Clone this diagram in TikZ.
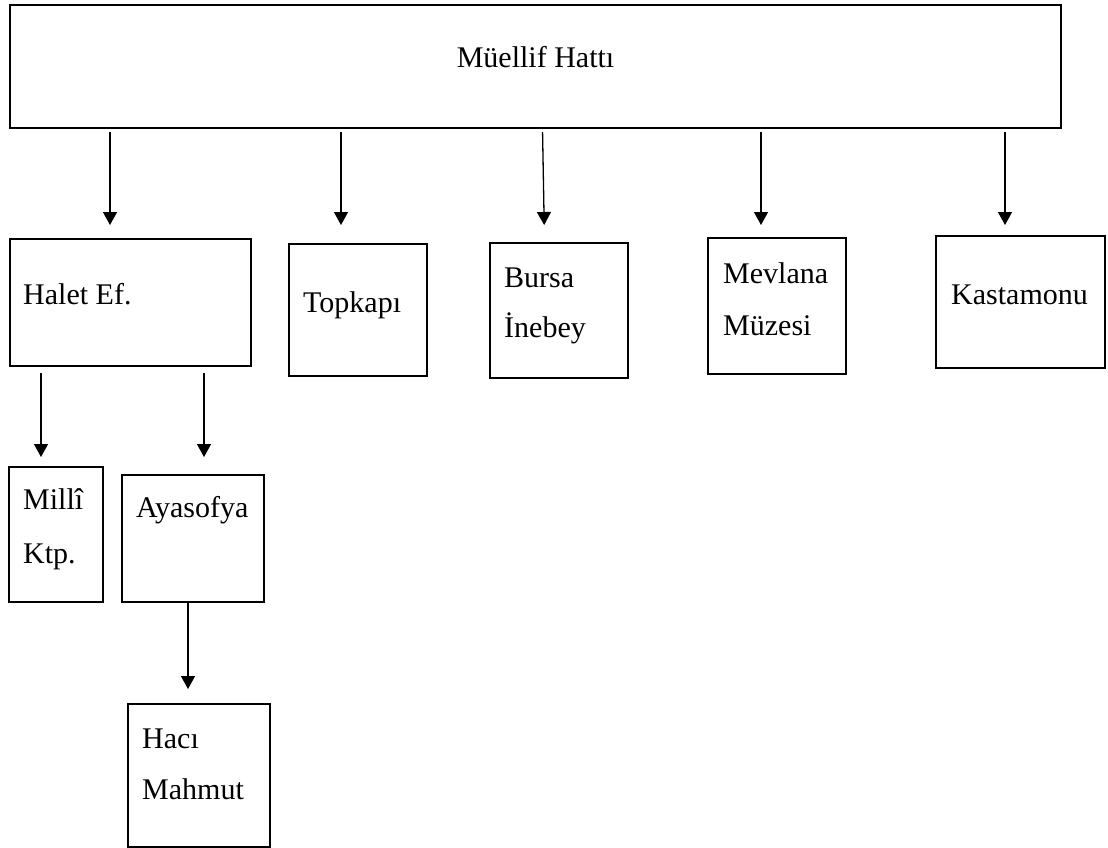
\documentclass[tikz,border=0pt]{standalone}
\usepackage{fontspec}
\setmainfont{Liberation Serif}
\usetikzlibrary{arrows.meta}
\begin{document}
\begin{tikzpicture}[x=1pt,y=1pt,
  box/.style={draw=black, line width=2pt, inner sep=0pt},
  txt/.style={anchor=base west, inner sep=0pt, font=\fontsize{30}{36}\selectfont},
  arr/.style={draw=black, line width=1.3pt, -{Triangle[length=13pt,width=14pt]}}]
\useasboundingbox (0,0) rectangle (1108,-848);
% boxes
\node[box, minimum width=1051pt, minimum height=123pt] (top) at (535.5,-66.5) {};
\node[box, minimum width=241pt, minimum height=127pt] (halet) at (130.5,-302.5) {};
\node[box, minimum width=138pt, minimum height=132pt] (topkapi) at (358,-310) {};
\node[box, minimum width=138pt, minimum height=135pt] (bursa) at (559,-310.5) {};
\node[box, minimum width=138pt, minimum height=136pt] (mevlana) at (777,-306) {};
\node[box, minimum width=169pt, minimum height=132pt] (kastamonu) at (1020.5,-302) {};
\node[box, minimum width=94pt, minimum height=135pt] (milli) at (56,-534.5) {};
\node[box, minimum width=142pt, minimum height=127pt] (ayasofya) at (193,-538.5) {};
\node[box, minimum width=142pt, minimum height=143pt] (haci) at (199,-775.5) {};
% texts
\node[txt, anchor=base] (t-top) at (535.5,-68) {Müellif Hattı};
\node[txt] (t-halet) at (23,-304) {Halet Ef.};
\node[txt] (t-topkapi) at (303,-312) {Topkapı};
\node[txt] (t-bursa1) at (504,-287) {Bursa};
\node[txt] (t-bursa2) at (504,-337) {İnebey};
\node[txt] (t-mevlana1) at (723,-283) {Mevlana};
\node[txt] (t-mevlana2) at (723,-335) {Müzesi};
\node[txt] (t-kastamonu) at (951,-304) {Kastamonu};
\node[txt] (t-milli1) at (23,-509) {Millî};
\node[txt] (t-milli2) at (23,-563) {Ktp.};
\node[txt] (t-ayasofya) at (136,-517) {Ayasofya};
\node[txt] (t-haci1) at (142,-748) {Hacı};
\node[txt] (t-haci2) at (142,-799) {Mahmut};
% connectors
\draw[arr, shorten <=3pt, shorten >=13pt] ([xshift=101pt]top.south west) -- ([xshift=101pt]halet.north west);
\draw[arr, shorten <=3pt, shorten >=18pt] ([xshift=332pt]top.south west) -- ([xshift=53pt]topkapi.north west);
\draw[arr, shorten <=3pt, shorten >=17pt] ([xshift=533.5pt]top.south west) -- ([xshift=55.5pt]bursa.north west);
\draw[arr, shorten <=3pt, shorten >=12pt] ([xshift=752pt]top.south west) -- ([xshift=54pt]mevlana.north west);
\draw[arr, shorten <=3pt, shorten >=10pt] ([xshift=996pt]top.south west) -- ([xshift=70pt]kastamonu.north west);
\draw[arr, shorten <=6pt, shorten >=9pt] ([xshift=32pt]halet.south west) -- ([xshift=33pt]milli.north west);
\draw[arr, shorten <=6pt, shorten >=17pt] ([xshift=195pt]halet.south west) -- ([xshift=83pt]ayasofya.north west);
\draw[arr, shorten >=14pt] ([xshift=67pt]ayasofya.south west) -- ([xshift=61pt]haci.north west);
\end{tikzpicture}
\end{document}
